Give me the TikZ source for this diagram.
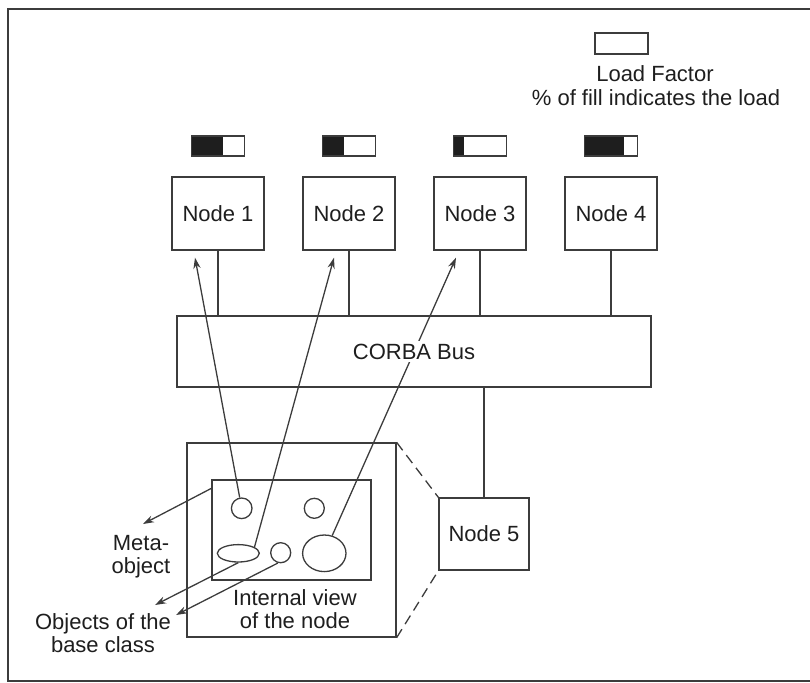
\documentclass[tikz,border=0pt]{standalone}
\usepackage{fontspec}
\setmainfont{Liberation Sans}
\usetikzlibrary{shapes.geometric,arrows.meta,calc}
\definecolor{linec}{HTML}{3C3C3C}
\definecolor{inkc}{HTML}{1E1E1E}
\begin{document}
\begin{tikzpicture}[x=0.5pt,y=-0.5pt,line width=0.65pt,draw=linec,text=inkc,
  lbl/.style={font=\fontsize{11}{13}\selectfont,inner sep=0pt},
  nodebox/.style={draw=linec,minimum width=46pt,minimum height=36.5pt,inner sep=0pt,font=\fontsize{11}{13}\selectfont},
  loadbar/.style={draw=linec,minimum width=26.5pt,minimum height=10pt,inner sep=0pt,
    path picture={\fill[inkc] (path picture bounding box.south west) rectangle
      ($(path picture bounding box.north west)!#1!(path picture bounding box.north east)$);}},
  blob/.style={draw=linec,inner sep=0pt},
  link/.style={draw=linec},
  ptr/.style={draw=linec,-{Stealth[length=5.5pt,width=3.6pt]}},
  zoomline/.style={draw=linec,dash pattern=on 5pt off 3pt}]
\useasboundingbox (0,0) rectangle (810,682);
% frame
\draw[line width=0.8pt] (8,9) rectangle (830,681);

% legend
\node[draw=linec,minimum width=26.5pt,minimum height=10.5pt,inner sep=0pt] (legend) at (621.5,43.5) {};
\node[lbl,anchor=base] (lf1) at (655,81.7) {Load Factor};
\node[lbl,anchor=base] (lf2) at (656,105) {\% of fill indicates the load};

% nodes on the bus with their load indicators
\node[nodebox] (n1) at (218,213.5) {Node 1};
\node[nodebox] (n2) at (349,213.5) {Node 2};
\node[nodebox] (n3) at (480,213.5) {Node 3};
\node[nodebox] (n4) at (611,213.5) {Node 4};
\node[loadbar=0.6]  (b1) at (218,146) {};
\node[loadbar=0.4]  (b2) at (349,146) {};
\node[loadbar=0.19] (b3) at (480,146) {};
\node[loadbar=0.74] (b4) at (611,146) {};

% CORBA bus
\node[draw=linec,minimum width=237pt,minimum height=35.5pt,inner sep=0pt] (bus) at (414,351.5) {};
\foreach \k in {1,2,3,4} \draw[link] (n\k.south) -- (n\k.south |- bus.north);

% node 5 and its internal view
\node[nodebox,minimum width=45pt,minimum height=36pt] (n5) at (484,534) {Node 5};
\draw[link] (n5.north |- bus.south) -- (n5.north);
\node[draw=linec,minimum width=104.5pt,minimum height=97pt,inner sep=0pt] (outer) at (291.5,540) {};
\node[draw=linec,minimum width=79.5pt,minimum height=50pt,inner sep=0pt] (inner) at (291.5,530) {};
\draw[zoomline] (outer.north east) -- (n5.north west);
\draw[zoomline] (outer.south east) -- (n5.south west);

% objects inside the node
\node[blob,circle,minimum size=10.3pt] (c1) at (241.7,508.3) {};
\node[blob,circle,minimum size=10pt] (c2) at (314.3,508.3) {};
\node[blob,ellipse,minimum width=21pt,minimum height=8.7pt] (e1) at (238.3,553.3) {};
\node[blob,circle,minimum size=10pt] (c3) at (280.7,552.7) {};
\node[blob,ellipse,minimum width=21.7pt,minimum height=18.3pt] (c4) at (324.3,553.3) {};
\node[lbl,anchor=base] (iv1) at (295,605) {Internal view};
\node[lbl,anchor=base] (iv2) at (295,628) {of the node};

% labels on the left
\node[lbl,anchor=base] (m1) at (141,550) {Meta-};
\node[lbl,anchor=base] (m2) at (141,573) {object};
\node[lbl,anchor=base] (o1) at (103,629) {Objects of the};
\node[lbl,anchor=base] (o2) at (103,652) {base class};

% arrow tips
\coordinate (t1) at ($(n1.south)+(-23,7)$);
\coordinate (t2) at ($(n2.south)+(-15,7)$);
\coordinate (t3) at ($(n3.south)+(-24,7)$);
\coordinate (tm) at (143,524);
\coordinate (to1) at (155,605);
\coordinate (to2) at (176,615);

\draw[ptr] (c1) -- (t1);
\draw[ptr] (e1.21) -- (t2);
\draw[ptr] (c4) -- (t3);
\draw[ptr] ($(inner.north west)+(0,9)$) -- (tm);
\draw[ptr] (e1.south) -- (to1);
\draw[ptr] (c3.255) -- (to2);

\node[lbl,fill=white,inner sep=1.5pt] (buslbl) at (bus) {CORBA Bus};
\end{tikzpicture}
\end{document}
